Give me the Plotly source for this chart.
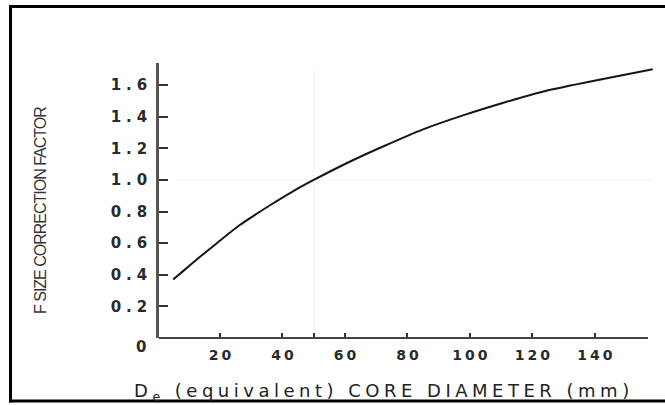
import plotly.graph_objects as go

# Size correction factor F versus equivalent core diameter
diameter_mm = [5, 8, 14, 19, 26, 36, 43.5, 50, 62, 72, 85, 98, 111, 123.5, 143, 158.5]
factor_f = [0.37, 0.42, 0.52, 0.60, 0.71, 0.84, 0.93, 1.00, 1.12, 1.21, 1.32, 1.41, 1.49, 1.56, 1.64, 1.70]

x_tickvals = [20, 40, 60, 80, 100, 120, 140]
x_ticklabels = ["20", "40", "60", "80", "100", "120", "140"]
x_unlabelled_ticks = [50]
y_tickvals = [0.2, 0.4, 0.6, 0.8, 1.0, 1.2, 1.4, 1.6]
y_ticklabels = ["0.2", "0.4", "0.6", "0.8", "1.0", "1.2", "1.4", "1.6"]
origin_label = "0"
reference_point = (50, 1.0)

W, H = 665, 405
L, R, T, B = 159, 11, 63, 67


def px(xpix):
    return (xpix - L) / (W - L - R)


def py(ypix):
    return (H - B - ypix) / (H - T - B)


def spaced(s, sp):
    # widen the lettering without leaving trailing space after the last glyph
    if len(s) < 2:
        return s
    return f'<span style="letter-spacing:{sp}px">{s[:-1]}</span>{s[-1]}'


y_tick_font = dict(family="DejaVu Sans", size=15, color="#2a2a2a", weight="bold")
x_tick_font = dict(family="DejaVu Sans", size=14, color="#2a2a2a", weight="bold")

fig = go.Figure()
fig.add_trace(go.Scatter(
    x=diameter_mm, y=factor_f, mode="lines",
    line=dict(color="#151515", width=2, shape="spline", smoothing=0.6),
    hoverinfo="skip", showlegend=False,
))

fig.update_xaxes(
    range=[0.48, 158.9], showgrid=False, zeroline=False, showline=False,
    tickmode="array", tickvals=x_tickvals,
    ticktext=[spaced(t, 3) for t in x_ticklabels],
    ticks="inside", ticklen=5, tickwidth=1.5, tickcolor="#333",
    tickfont=x_tick_font, ticklabelstandoff=7,
    minor=dict(tickmode="array", tickvals=x_unlabelled_ticks, ticks="inside",
               ticklen=5, tickwidth=1.5, tickcolor="#333", showgrid=False),
)
fig.update_yaxes(
    range=[0, 1.74], showgrid=False, zeroline=False,
    showline=True, linecolor="#555", linewidth=2.5,
    tickmode="array", tickvals=y_tickvals,
    ticktext=[spaced(t, 5) for t in y_ticklabels],
    ticks="inside", ticklen=9, tickwidth=1.5, tickcolor="#333",
    tickfont=y_tick_font, ticklabelstandoff=6,
)

shapes = [
    # faint reference lines through the unit point
    dict(type="line", xref="x", yref="paper", x0=reference_point[0], x1=reference_point[0],
         y0=0, y1=py(68), line=dict(color="#f0f0f0", width=1), layer="below"),
    dict(type="line", xref="paper", yref="y", x0=px(175), x1=px(652),
         y0=reference_point[1], y1=reference_point[1], line=dict(color="#f2f2f2", width=1), layer="below"),
    # x axis line
    dict(type="line", xref="paper", yref="paper", x0=0, x1=px(648), y0=0, y1=0,
         line=dict(color="#444", width=2)),
    # frame (open on the right side)
    dict(type="line", xref="paper", yref="paper", x0=px(10.5), x1=px(10.5), y0=py(5), y1=py(402.5),
         line=dict(color="#000", width=3)),
    dict(type="line", xref="paper", yref="paper", x0=px(9), x1=px(680), y0=py(6.5), y1=py(6.5),
         line=dict(color="#000", width=3)),
    dict(type="line", xref="paper", yref="paper", x0=px(9), x1=px(680), y0=py(401), y1=py(401),
         line=dict(color="#000", width=3)),
]

annotations = [
    dict(text=origin_label, xref="paper", yref="paper", x=px(148), y=py(347),
         xanchor="right", yanchor="middle", showarrow=False, font=y_tick_font),
    dict(text='<span style="letter-spacing:4.5px">D<sub>e</sub> (equivalent) CORE DIAMETER (mm</span>)',
         xref="paper", yref="paper", x=px(132), y=py(392),
         xanchor="left", yanchor="middle", showarrow=False,
         font=dict(family="DejaVu Sans", size=18, color="#222")),
    dict(text='<span style="letter-spacing:-1px">F SIZE CORRECTION FACTO</span>R', textangle=-90,
         xref="paper", yref="paper", x=px(40), y=py(210),
         xanchor="center", yanchor="middle", showarrow=False,
         font=dict(family="Liberation Sans", size=16, color="#333")),
]

fig.update_layout(
    width=W, height=H,
    margin=dict(l=L, r=R, t=T, b=B, autoexpand=False),
    paper_bgcolor="white", plot_bgcolor="white",
    shapes=shapes, annotations=annotations,
)

fig.write_html("out.html")
